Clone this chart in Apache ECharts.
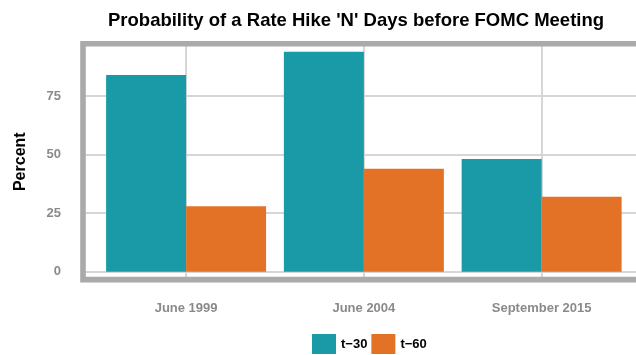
<!DOCTYPE html>
<html>
<head>
<meta charset="utf-8">
<script src="https://cdn.jsdelivr.net/npm/echarts@6/dist/echarts.min.js"></script>
<style>
  html, body { margin: 0; padding: 0; background: #fff; }
  #chart { width: 636px; height: 355px; }
</style>
</head>
<body>
<div id="chart"></div>
<script>
  // data
  const categories = ['June 1999', 'June 2004', 'September 2015'];
  const seriesNames = ['t\u221230', 't\u221260'];
  const t30 = [84, 94, 48.2];
  const t60 = [28, 44, 32];
  const yTicks = [0, 25, 50, 75];

  const font = "'Liberation Sans', Arial, sans-serif";
  const colors = ['#1a9aa6', '#e37226'];

  let chart = echarts.init(document.getElementById('chart'));

  // bars sit on a value axis so the panel can be padded like ggplot (0.6 band each side)
  const toPoints = vals => categories.map((c, i) => [i + 1, vals[i]]);

  let option = {
    animation: false,
    color: colors,
    textStyle: { fontFamily: font },
    title: {
      text: "Probability of a Rate Hike 'N' Days before FOMC Meeting",
      left: 108,
      top: 11,
      padding: 0,
      textStyle: { fontSize: 18.5, fontWeight: 'bold', color: '#000', fontFamily: font }
    },
    legend: {
      left: 312,
      top: 334,
      padding: 0,
      itemWidth: 24,
      itemHeight: 20,
      itemGap: 4,
      icon: 'rect',
      data: seriesNames,
      textStyle: { fontSize: 13, fontWeight: 'bold', color: '#000', fontFamily: font }
    },
    grid: {
      left: 83,
      top: 43.8,
      width: 565.3,
      bottom: 75.4,
      outerBoundsMode: 'none',
      containLabel: false,
      show: true,
      z: 5,
      backgroundColor: 'transparent',
      borderColor: '#aaaaaa',
      borderWidth: 5.6
    },
    xAxis: {
      type: 'value',
      min: 0.42,
      max: 3.6,
      minInterval: 1,
      maxInterval: 1,
      axisLine: { show: false },
      axisTick: { show: false },
      splitLine: {
        show: true, showMinLine: false, showMaxLine: false,
        lineStyle: { color: '#d6d6d6', width: 2 }
      },
      axisLabel: {
        showMinLabel: false,
        showMaxLabel: false,
        margin: 22,
        color: '#8a8a8a',
        fontSize: 13,
        fontWeight: 'bold',
        fontFamily: font,
        formatter: v => categories[Math.round(v) - 1] || ''
      }
    },
    yAxis: {
      type: 'value',
      min: -3.33,
      max: 97.35,
      minInterval: yTicks[1] - yTicks[0],
      maxInterval: yTicks[1] - yTicks[0],
      name: 'Percent',
      nameLocation: 'middle',
      nameGap: 54,
      nameTextStyle: { fontSize: 16, fontWeight: 'bold', color: '#000', fontFamily: font },
      axisLine: { show: false },
      axisTick: { show: false },
      splitLine: {
        show: true, showMinLine: false, showMaxLine: false,
        lineStyle: { color: '#d6d6d6', width: 2 }
      },
      axisLabel: {
        showMinLabel: false,
        showMaxLabel: false,
        margin: 22,
        color: '#8a8a8a',
        fontSize: 13,
        fontWeight: 'bold',
        fontFamily: font
      }
    },
    series: [
      {
        name: seriesNames[0],
        type: 'bar',
        z: 2,
        barGap: '0%',
        barCategoryGap: '10%',
        data: toPoints(t30)
      },
      {
        name: seriesNames[1],
        type: 'bar',
        z: 2,
        barGap: '0%',
        barCategoryGap: '10%',
        data: toPoints(t60)
      }
    ]
  };
  chart.setOption(option);
</script>
</body>
</html>
